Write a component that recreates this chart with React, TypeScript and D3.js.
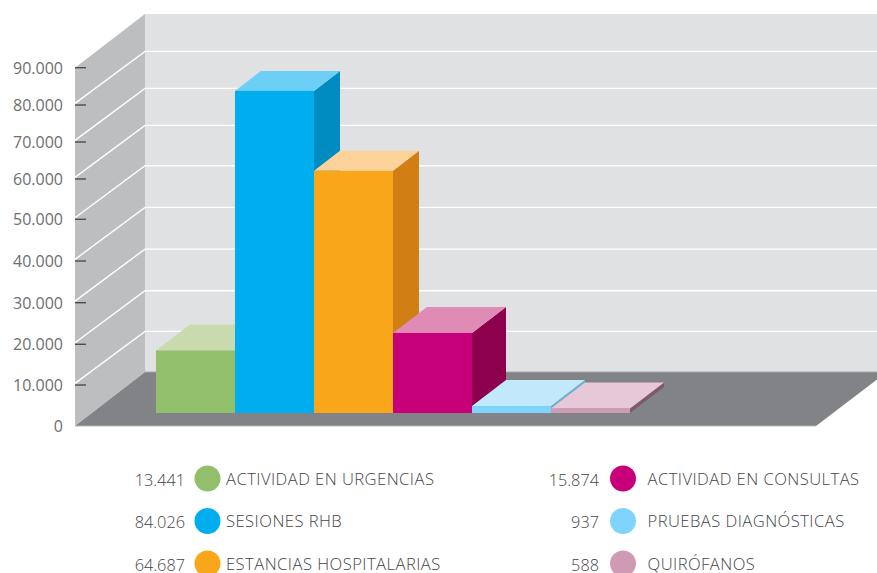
import React from 'react';
import * as d3 from 'd3';

const categories = ['ACTIVIDAD EN URGENCIAS', 'SESIONES RHB', 'ESTANCIAS HOSPITALARIAS', 'ACTIVIDAD EN CONSULTAS', 'PRUEBAS DIAGNÓSTICAS', 'QUIRÓFANOS'];
const legendValues = [13441, 84026, 64687, 15874, 937, 588];
// bar heights as they read against the drawn axis (the source art is not to scale)
const plottedValues = [15300, 80300, 58800, 19600, 1700, 1100];
const tickValues = [0, 10000, 20000, 30000, 40000, 50000, 60000, 70000, 80000, 90000];
// the drawn axis has uneven spacing
const tickPixels = [426, 385, 344.3, 302.7, 261, 219.3, 179, 142, 105, 67.7];

const frontColors = ['#92bf6b', '#00aeef', '#faa61a', '#c7007a', '#7fd4fb', '#cf9ab3'];
const topColors = ['#c9daae', '#6dcff6', '#fdd29b', '#df8bb6', '#c2e8fb', '#e7c8d8'];
const sideColors = ['#6f9a4e', '#008bc1', '#d17f14', '#8c004e', '#6cb0cf', '#7f5a6e'];

const W = 877;
const H = 573;
const font = '"Open Sans", sans-serif';
const esNumber = d3.formatLocale({ decimal: ',', thousands: '.', grouping: [3], currency: ['', ''] }).format(',d');

const pts = (p: number[][]) => p.map(d => d.join(',')).join(' ');

export default function App() {
  const y = d3.scaleLinear().domain(tickValues).range(tickPixels);
  const x = d3.scaleBand().domain(categories).range([156, 630]);
  const wallX = 75, backX = 145, wallDepth = 52, barLift = 13;
  const floorY = y(0), backY = floorY - 54;
  const base = y(0) - barLift;

  return (
    <svg width={W} height={H} style={{ position: 'absolute', left: 0, top: 0 }}>
      <rect x={backX} y={14} width={W - backX} height={backY - 14} fill="#e0e1e3" />
      <polygon points={pts([[wallX, y(90000)], [backX, 14], [backX, backY], [wallX, floorY]])} fill="#bcbec0" />
      <polygon points={pts([[wallX, floorY], [backX, backY], [W + 10, backY], [816, floorY]])} fill="#828386" />
      <line x1={wallX} x2={816} y1={floorY} y2={floorY} stroke="#b5b6b8" />
      <line x1={backX} x2={W} y1={backY} y2={backY} stroke="#a7a8aa" />

      {tickValues.slice(1, -1).map(t => {
        const ly = y(t) - 1.6;
        return (
          <polyline key={t} points={pts([[wallX, ly], [backX, ly - wallDepth], [W, ly - wallDepth]])}
            fill="none" stroke="#fff" strokeWidth={1.4} />
        );
      })}

      {tickValues.map(t => (
        <g key={t}>
          {t > 0 && <line x1={wallX} x2={86} y1={y(t)} y2={y(t)} stroke="#4d4d4f" strokeWidth={1.4} />}
          <text x={63} y={y(t) + 5.8} textAnchor="end" fontFamily={font} fontWeight={400} fontSize={16} fill="#6d6e71">
            {esNumber(t)}
          </text>
        </g>
      ))}

      {categories.map((c, i) => {
        const x0 = x(c)!;
        const x1 = x0 + x.bandwidth();
        const top = y(plottedValues[i]) - barLift;
        // the two tall bars were drawn with a shallower extrusion
        const [dx, dy] = i === 1 || i === 2 ? [26, 20] : [34, 26];
        return (
          <g key={c}>
            <polygon points={pts([[x1, top], [x1 + dx, top - dy], [x1 + dx, base - dy], [x1, base]])} fill={sideColors[i]} />
            <polygon points={pts([[x0, top], [x0 + dx, top - dy], [x1 + dx, top - dy], [x1, top]])} fill={topColors[i]} />
            <rect x={x0} y={top} width={x1 - x0} height={base - top} fill={frontColors[i]} />
          </g>
        );
      })}

      {categories.map((c, i) => {
        const left = i < 3;
        const cy = 478.5 + (i % 3) * 42.5;
        const cx = left ? 207.5 : 623;
        return (
          <g key={c} fontFamily={font} fontWeight={300} fill="#444547">
            <text x={left ? 185 : 599} y={cy + 7} textAnchor="end" fontSize={16.3}>{esNumber(legendValues[i])}</text>
            <circle cx={cx} cy={cy} r={13} fill={frontColors[i]} />
            <text x={left ? 226 : 647.5} y={cy + 6} fontSize={16.6} letterSpacing={0.45}>{c}</text>
          </g>
        );
      })}
    </svg>
  );
}
